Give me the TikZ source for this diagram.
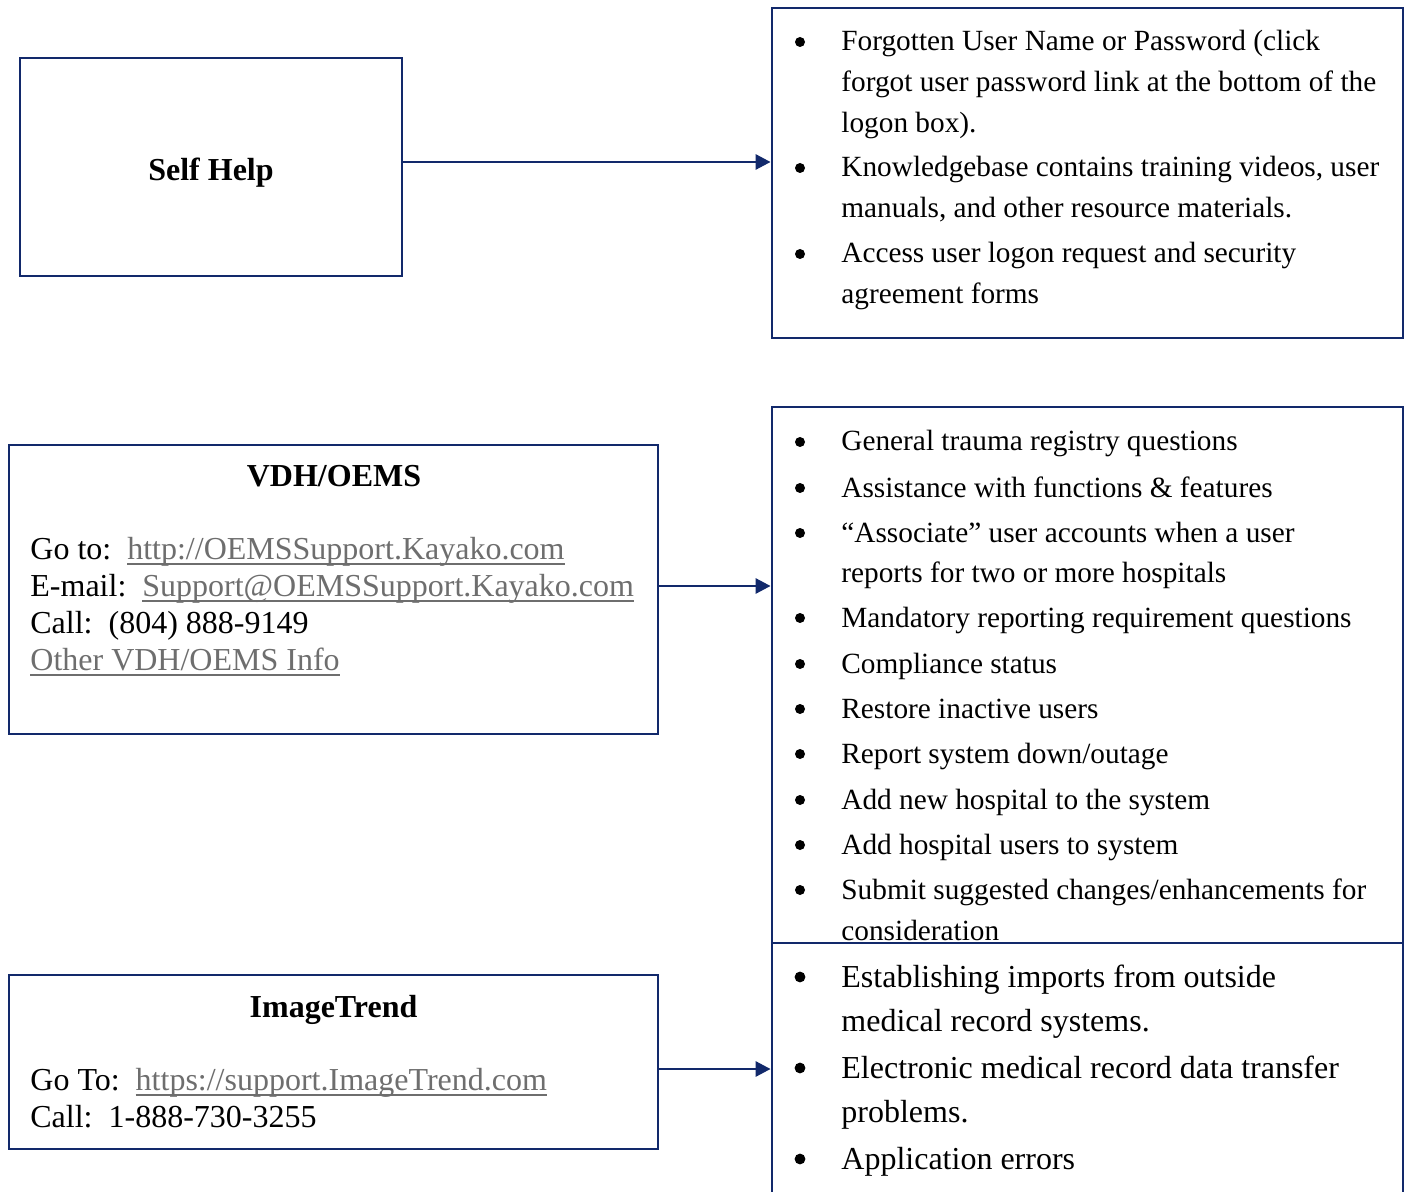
\documentclass[tikz,border=0pt]{standalone}
\usepackage{fontspec}
\setmainfont{Liberation Serif}
\usetikzlibrary{arrows.meta}

\definecolor{navy}{HTML}{12296B}
\definecolor{linkgray}{HTML}{6E6E6E}
% underlined link text, rule at a fixed depth
\newcommand{\ulink}[1]{{\color{linkgray}\setbox0\hbox{#1}\rlap{\rule[-3pt]{\wd0}{0.9pt}}\box0}}

\tikzset{
  panel/.style={draw=navy, line width=1.4pt, inner sep=0pt},
  conn/.style={draw=navy, line width=1.4pt, -{Triangle[length=7.5pt,width=7.5pt]}},
  small/.style={anchor=base west, inner sep=0pt, font=\fontsize{14.65}{17}\selectfont},
  big/.style={anchor=base west, inner sep=0pt, font=\fontsize{16}{19}\selectfont},
  dot/.style={circle, fill=black, inner sep=0pt, minimum size=5pt},
  head/.style={anchor=base, inner sep=0pt, font=\fontsize{16}{19}\selectfont\bfseries}
}

\begin{document}
\begin{tikzpicture}[x=0.5pt,y=-0.5pt]
  \useasboundingbox (0,0) rectangle (1408,1192);

  % boxes
  \node[panel, minimum width=191pt, minimum height=109pt] (self) at (211,167) {};
  \node[panel, minimum width=315.5pt, minimum height=165pt] (pwd) at (1087.5,173) {};
  \node[panel, minimum width=324.5pt, minimum height=144.5pt] (vdh) at (333.5,589.5) {};
  \node[panel, minimum width=315.5pt, minimum height=268pt] (trauma) at (1087.5,675) {};
  \node[panel, minimum width=324.5pt, minimum height=87pt] (itrend) at (333.5,1062) {};
  \node[panel, minimum width=315.5pt, minimum height=148.5pt] (errors) at (1087.5,1091.5) {};

  % titles
  \node[head] (selfT) at (211,181) {Self Help};
  \node[head] (vdhT) at (334,487) {VDH/OEMS};
  \node[head] (itrendT) at (333.5,1017) {ImageTrend};

  % contact lines
  \foreach \y/\t [count=\i] in {559/{Go to:\hspace{.5em}\ulink{http://OEMSSupport.Kayako.com}},
      596/{E-mail:\hspace{.5em}\ulink{Support@OEMSSupport.Kayako.com}},
      633/{Call:\hspace{.5em}(804) 888-9149},
      670/{\ulink{Other VDH/OEMS Info}}}
    \node[big] (v\i) at (30,\y) {\t};
  \foreach \y/\t [count=\i] in {1090/{Go To:\hspace{.5em}\ulink{https://support.ImageTrend.com}},
      1127/{Call:\hspace{.5em}1-888-730-3255}}
    \node[big] (i\i) at (30,\y) {\t};

  % self help list
  \foreach \y [count=\i] in {51,177,263}
    \node[dot] (pb\i) at (800,\y-9) {};
  \foreach \y/\t [count=\i] in {51/{Forgotten User Name or Password (click},
      92/{forgot user password link at the bottom of the},
      133/{logon box).},
      177/{Knowledgebase contains training videos, user},
      218/{manuals, and other resource materials.},
      263/{Access user logon request and security},
      304/{agreement forms}}
    \node[small] (p\i) at (841,\y) {\t};

  % VDH/OEMS list
  \foreach \y [count=\i] in {451,497,542,627,673,718,763,809,854,899}
    \node[dot] (tb\i) at (800,\y-9) {};
  \foreach \y/\t [count=\i] in {451/{General trauma registry questions},
      497/{Assistance with functions \& features},
      542/{“Associate” user accounts when a user},
      582/{reports for two or more hospitals},
      627/{Mandatory reporting requirement questions},
      673/{Compliance status},
      718/{Restore inactive users},
      763/{Report system down/outage},
      809/{Add new hospital to the system},
      854/{Add hospital users to system},
      899/{Submit suggested changes/enhancements for},
      940/{consideration}}
    \node[small] (t\i) at (841,\y) {\t};

  % ImageTrend list
  \foreach \y [count=\i] in {987,1078,1169}
    \node[dot, minimum size=5.4pt] (eb\i) at (800,\y-10) {};
  \foreach \y/\t [count=\i] in {987/{Establishing imports from outside},
      1031/{medical record systems.},
      1078/{Electronic medical record data transfer},
      1122/{problems.},
      1169/{Application errors}}
    \node[big] (e\i) at (841,\y) {\t};

  % connectors
  \draw[conn] ([yshift=2.5pt]self.east) -- ([yshift=2.5pt]self.east -| pwd.west);
  \draw[conn] ([yshift=1.75pt]vdh.east) -- ([yshift=1.75pt]vdh.east -| trauma.west);
  \draw[conn] ([yshift=-3.5pt]itrend.east) -- ([yshift=-3.5pt]itrend.east -| errors.west);
\end{tikzpicture}
\end{document}
